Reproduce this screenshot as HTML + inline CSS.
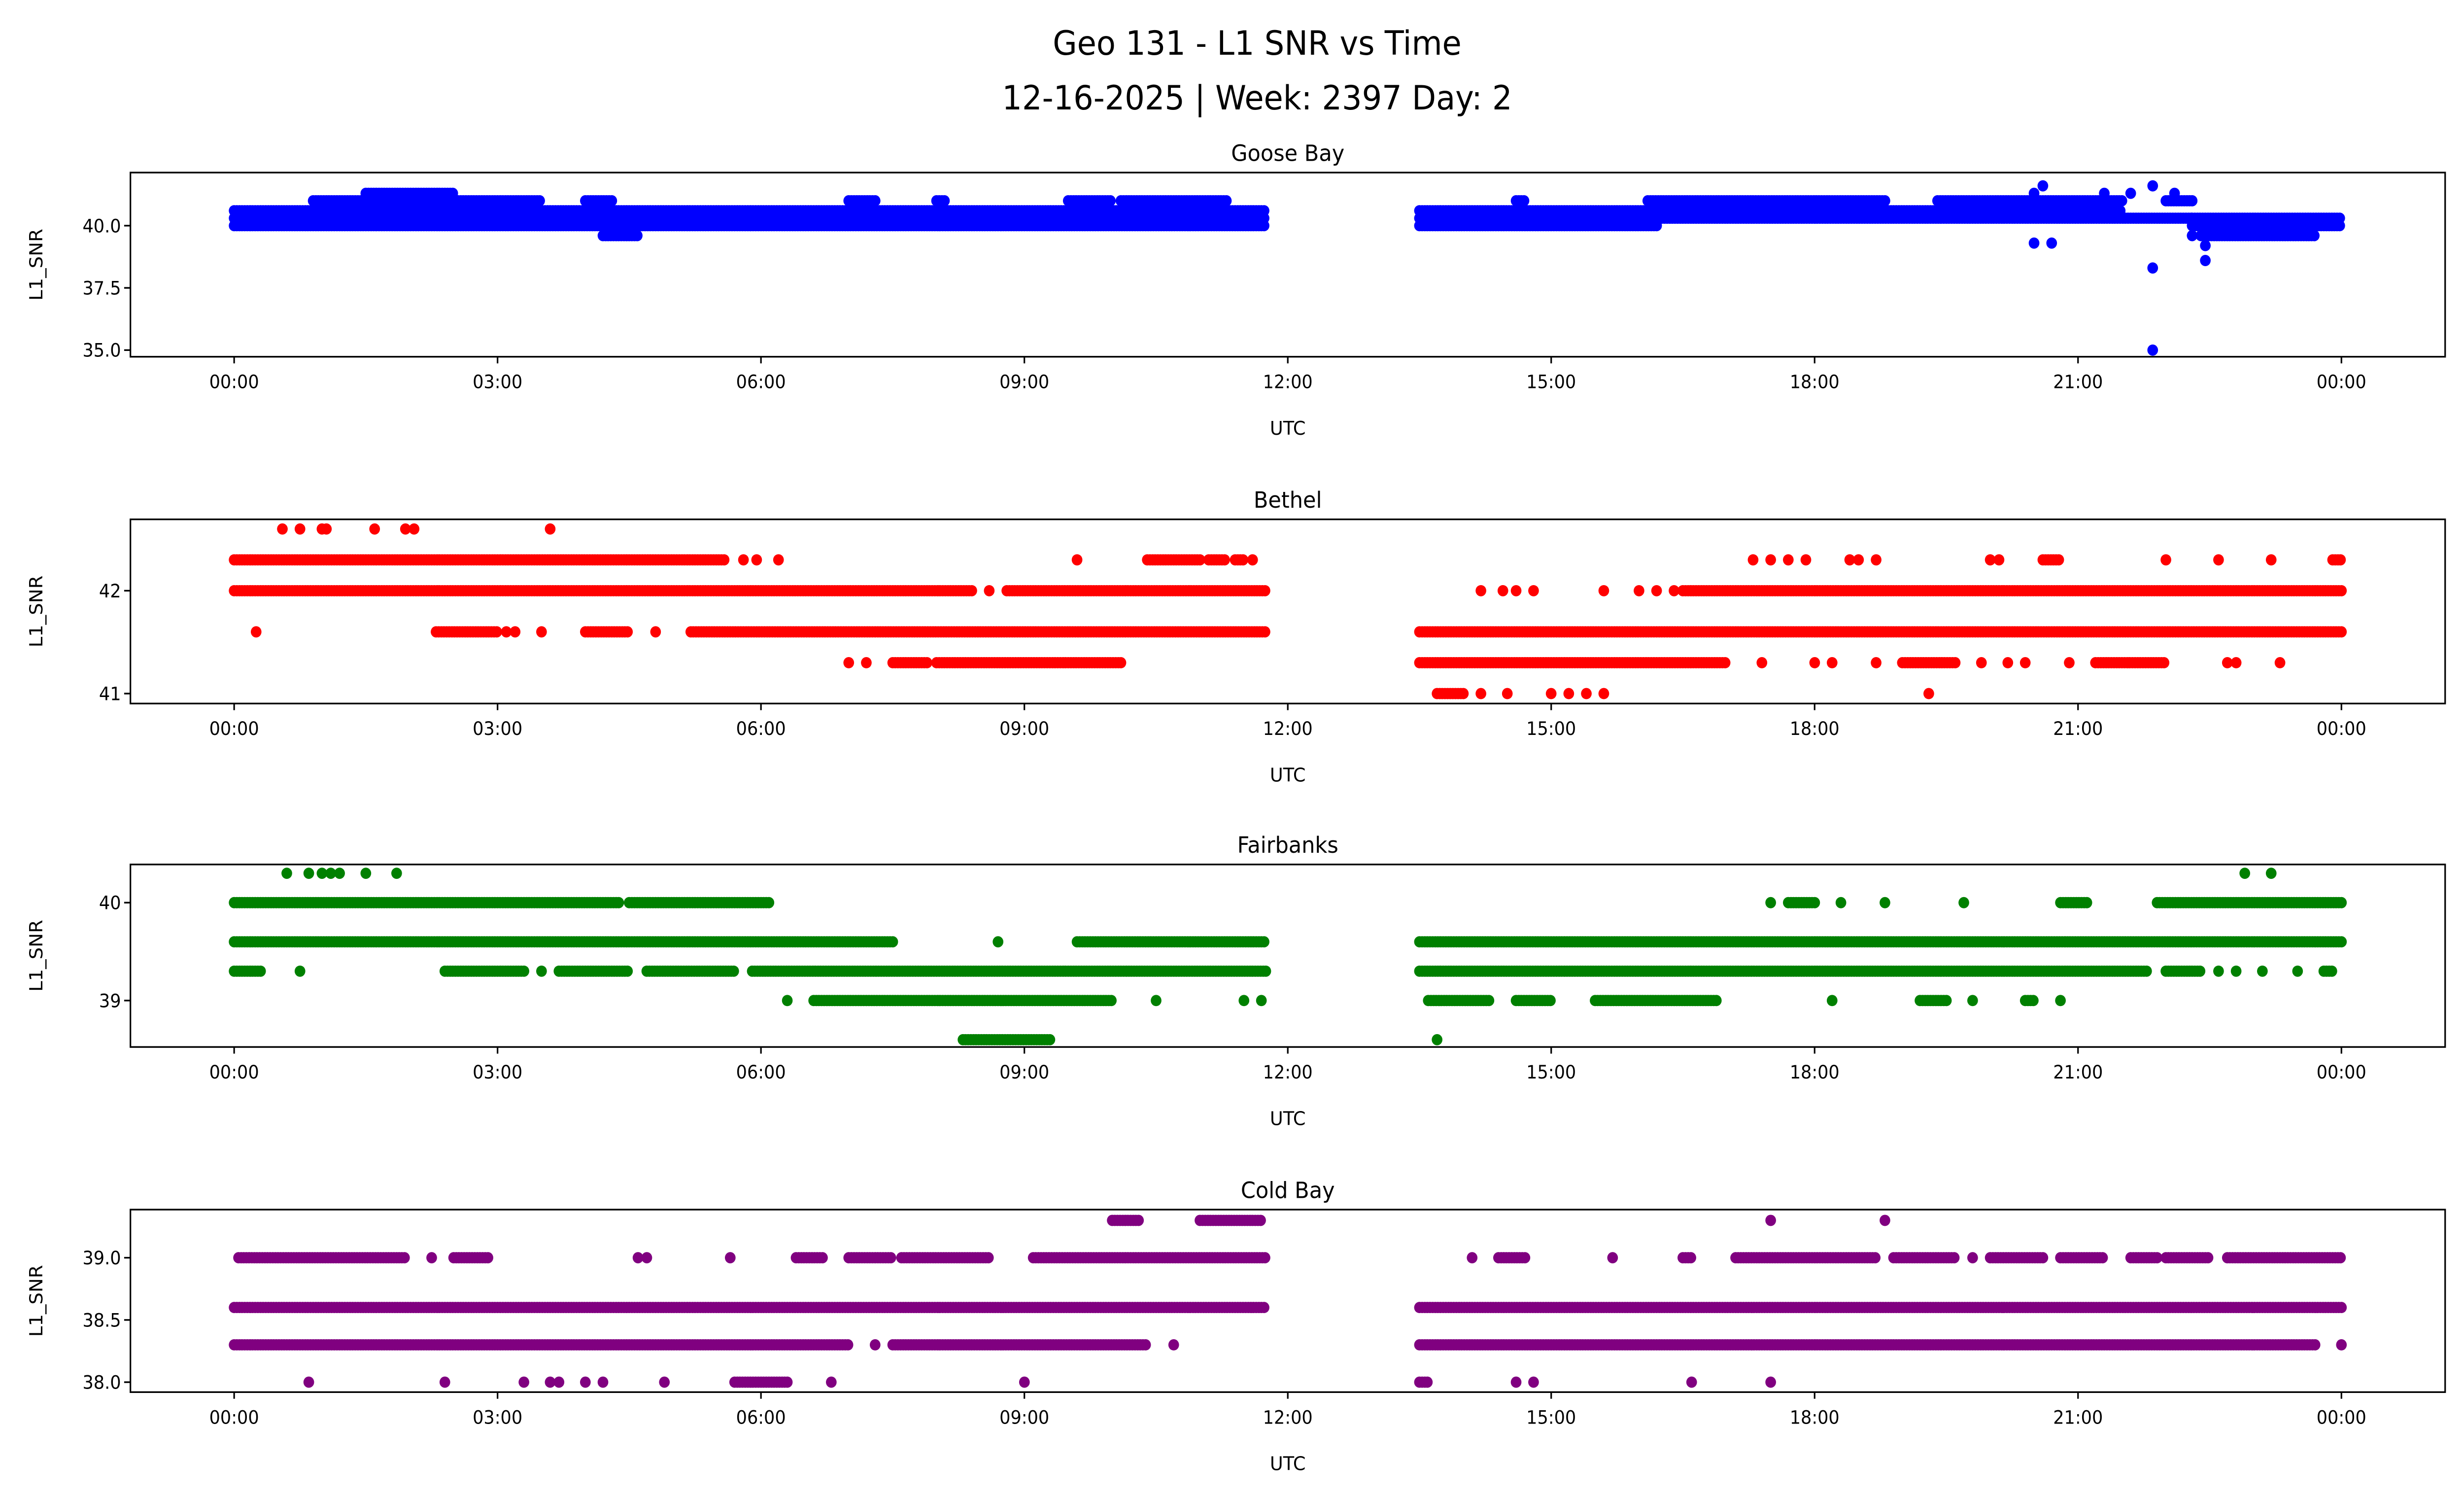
<!DOCTYPE html>
<html><head><meta charset="utf-8"><style>
html,body{margin:0;padding:0;background:#fff;overflow:hidden;width:100vw;height:100vh}
svg{display:block;width:100vw;height:100vh}
text{font-family:"DejaVu Sans","Liberation Sans",sans-serif;fill:#000}
</style></head><body>
<svg id="chart" viewBox="0 0 1568 901" preserveAspectRatio="none" xmlns="http://www.w3.org/2000/svg">
<text x="800" y="33" font-size="20" text-anchor="middle">Geo 131 - L1 SNR vs Time</text>
<text x="800" y="66" font-size="20" text-anchor="middle">12-16-2025 | Week: 2397 Day: 2</text>
</svg>
<script>
// hour ticks
const tickHours = [0,3,6,9,12,15,18,21,24];
const tickLabels = ["00:00","03:00","06:00","09:00","12:00","15:00","18:00","21:00","00:00"];
// Goose Bay runs: [value, startHour, endHour]
const gooseRuns = [[40.0,0,11.75],[40.3,0,11.75],[40.6,0,11.75],[41.0,0.9,3.5],[41.3,1.5,2.5],[41.0,4.0,4.3],[39.6,4.2,4.6],[41.0,7.0,7.3],[41.0,8.0,8.1],[41.0,9.5,10.0],[41.0,10.1,11.3],
 [40.0,13.5,16.2],[40.3,13.5,22.3],[40.6,13.5,21.5],[41.0,14.6,14.7],[41.0,16.1,18.8],[41.0,19.4,21.5],[41.0,22.0,22.3],[40.0,22.3,24],[39.6,22.4,23.7],[40.3,22.3,24]];
const goosePts = [[20.5,41.3],[20.5,39.3],[20.7,39.3],[20.6,41.6],[21.3,41.3],[21.6,41.3],[21.85,41.6],[21.85,38.3],[21.85,35.0],[22.45,38.6],[22.45,39.2],[22.1,41.3],[22.3,39.6]];
// Bethel
const bethelRuns = [[42.3,0,5.6],[42.3,10.4,11.0],[42.3,11.1,11.3],[42.3,11.4,11.5],[42.0,0,8.4],[42.0,8.8,11.75],[41.6,2.3,3.0],[41.6,4.0,4.5],[41.6,5.2,11.75],[41.3,7.5,7.9],[41.3,8.0,10.1],
 [42.3,20.6,20.8],[42.3,23.9,24],[42.0,16.5,24],[41.6,13.5,24],[41.3,13.5,17.0],[41.3,19.0,19.6],[41.3,21.2,22.0],[41.0,13.7,14.0]];
const bethelPts = [[0.55,42.6],[0.75,42.6],[1.0,42.6],[1.05,42.6],[1.6,42.6],[1.95,42.6],[2.05,42.6],[3.6,42.6],[5.8,42.3],[5.95,42.3],[6.2,42.3],[9.6,42.3],[11.6,42.3],[8.6,42.0],[0.25,41.6],[3.1,41.6],[3.2,41.6],[3.5,41.6],[4.8,41.6],[7.0,41.3],[7.2,41.3],
 [17.3,42.3],[17.5,42.3],[17.7,42.3],[17.9,42.3],[18.4,42.3],[18.5,42.3],[18.7,42.3],[20.0,42.3],[20.1,42.3],[22.0,42.3],[22.6,42.3],[23.2,42.3],[14.2,42.0],[14.45,42.0],[14.6,42.0],[14.8,42.0],[15.6,42.0],[16.0,42.0],[16.2,42.0],[16.4,42.0],
 [17.4,41.3],[18.0,41.3],[18.2,41.3],[18.7,41.3],[19.9,41.3],[20.2,41.3],[20.4,41.3],[20.9,41.3],[22.7,41.3],[22.8,41.3],[23.3,41.3],[14.2,41.0],[14.5,41.0],[15.0,41.0],[15.2,41.0],[15.4,41.0],[15.6,41.0],[19.3,41.0]];
// Fairbanks
const fairRuns = [[40.0,0,4.4],[40.0,4.5,6.1],[39.6,0,7.5],[39.6,9.6,11.75],[39.3,0,0.3],[39.3,2.4,3.3],[39.3,3.7,4.5],[39.3,4.7,5.7],[39.3,5.9,11.75],[39.0,6.6,10.0],[38.6,8.3,9.3],
 [40.0,17.7,18.0],[40.0,20.8,21.1],[40.0,21.9,24],[39.6,13.5,24],[39.3,13.5,21.8],[39.3,22.0,22.4],[39.3,23.8,23.9],[39.0,13.6,14.3],[39.0,14.6,15.0],[39.0,15.5,16.9],[39.0,19.2,19.5],[39.0,20.4,20.5]];
const fairPts = [[0.6,40.3],[0.85,40.3],[1.0,40.3],[1.1,40.3],[1.2,40.3],[1.5,40.3],[1.85,40.3],[22.9,40.3],[23.2,40.3],[8.7,39.6],[0.75,39.3],[3.5,39.3],[6.3,39.0],[10.5,39.0],[11.5,39.0],[11.7,39.0],
 [17.5,40.0],[18.3,40.0],[18.8,40.0],[19.7,40.0],[22.6,39.3],[22.8,39.3],[23.1,39.3],[23.5,39.3],[18.2,39.0],[19.8,39.0],[20.8,39.0],[13.7,38.6]];
// Cold Bay
const coldRuns = [[39.3,10.0,10.3],[39.3,11.0,11.7],[39.0,0.05,1.95],[39.0,2.5,2.9],[39.0,6.4,6.7],[39.0,7.0,7.5],[39.0,7.6,8.6],[39.0,9.1,11.75],[38.6,0,11.75],[38.3,0,7.0],[38.3,7.5,10.4],[38.0,5.7,6.3],
 [39.0,14.4,14.7],[39.0,16.5,16.6],[39.0,17.1,18.7],[39.0,18.9,19.6],[39.0,20.0,20.6],[39.0,20.8,21.3],[39.0,21.6,21.9],[39.0,22.0,22.5],[39.0,22.7,24],[38.6,13.5,24],[38.3,13.5,23.7],[38.0,13.5,13.6]];
const coldPts = [[17.5,39.3],[18.8,39.3],[2.25,39.0],[4.6,39.0],[4.7,39.0],[5.65,39.0],[7.3,38.3],[10.7,38.3],[0.85,38.0],[2.4,38.0],[3.3,38.0],[3.6,38.0],[3.7,38.0],[4.0,38.0],[4.2,38.0],[4.9,38.0],[6.8,38.0],[9.0,38.0],
 [14.1,39.0],[15.7,39.0],[19.8,39.0],[24.0,38.3],[14.6,38.0],[14.8,38.0],[16.6,38.0],[17.5,38.0]];

const panels = [
 {name:"Goose Bay",slug:"goose-bay",color:"#0000ff",top:104,bot:215,v0:40,y0:136,k:15,yt:[35.0,37.5,40.0],ytl:["35.0","37.5","40.0"],runs:gooseRuns,pts:goosePts},
 {name:"Bethel",slug:"bethel",color:"#ff0000",top:313,bot:424,v0:42,y0:356,k:62,yt:[41,42],ytl:["41","42"],runs:bethelRuns,pts:bethelPts},
 {name:"Fairbanks",slug:"fairbanks",color:"#008000",top:521,bot:631,v0:40,y0:544,k:59,yt:[39,40],ytl:["39","40"],runs:fairRuns,pts:fairPts},
 {name:"Cold Bay",slug:"cold-bay",color:"#800080",top:729,bot:839,v0:39,y0:758,k:75,yt:[38.0,38.5,39.0],ytl:["38.0","38.5","39.0"],runs:coldRuns,pts:coldPts}
];
const NS="http://www.w3.org/2000/svg";
const svg=document.getElementById('chart');
const L=83,R=1556;
function xs(h){return 149+h*1341/24;}
function mk(tag,attrs,parent){const e=document.createElementNS(NS,tag);for(const a in attrs)e.setAttribute(a,attrs[a]);(parent||svg).appendChild(e);return e;}
panels.forEach(p=>{
 const ys=v=>p.y0-(v-p.v0)*p.k;
 const g=mk('g',{});
 
 
 const t=mk('text',{x:(L+R)/2,y:p.top-7,'font-size':13.5,'text-anchor':'middle'},g);t.textContent=p.name;
 
 
 const pts=mk('g',{fill:p.color},g);
 
 
 p.runs.forEach(r=>{
  for(let h=r[1];h<=r[2]+1e-9;h+=0.03){
   mk('circle',{cx:xs(h).toFixed(1),cy:ys(r[0]).toFixed(1),r:3.4},pts);
  }
 });
 p.pts.forEach(q=>{
  const c=mk('circle',{cx:xs(q[0]).toFixed(1),cy:ys(q[1]).toFixed(1),r:3.4},pts);
  
  
 });
 const box=mk('rect',{x:L,y:p.top,width:R-L,height:p.bot-p.top,fill:'none',stroke:'#000','stroke-width':1},g);
 
 
 tickHours.forEach((h,i)=>{
  mk('line',{x1:xs(h),x2:xs(h),y1:p.bot,y2:p.bot+4,stroke:'#000','stroke-width':1},g);
  const tl=mk('text',{x:xs(h),y:p.bot+19,'font-size':11,'text-anchor':'middle'},g);tl.textContent=tickLabels[i];
  
  
 });
 p.yt.forEach((v,i)=>{
  mk('line',{x1:L-4,x2:L,y1:ys(v),y2:ys(v),stroke:'#000','stroke-width':1},g);
  const tl=mk('text',{x:L-6,y:ys(v)+4,'font-size':11,'text-anchor':'end'},g);tl.textContent=p.ytl[i];
  
  
 });
 const xl=mk('text',{x:(L+R)/2,y:p.bot+47,'font-size':11.5,'text-anchor':'middle'},g);xl.textContent='UTC';
 
 
 const cy=(p.top+p.bot)/2;
 const yl=mk('text',{x:0,y:0,'font-size':11.5,'text-anchor':'middle',transform:`translate(${L-56},${cy}) rotate(-90)`},g);yl.textContent='L1_SNR';
 
 
});
</script>
</body></html>
